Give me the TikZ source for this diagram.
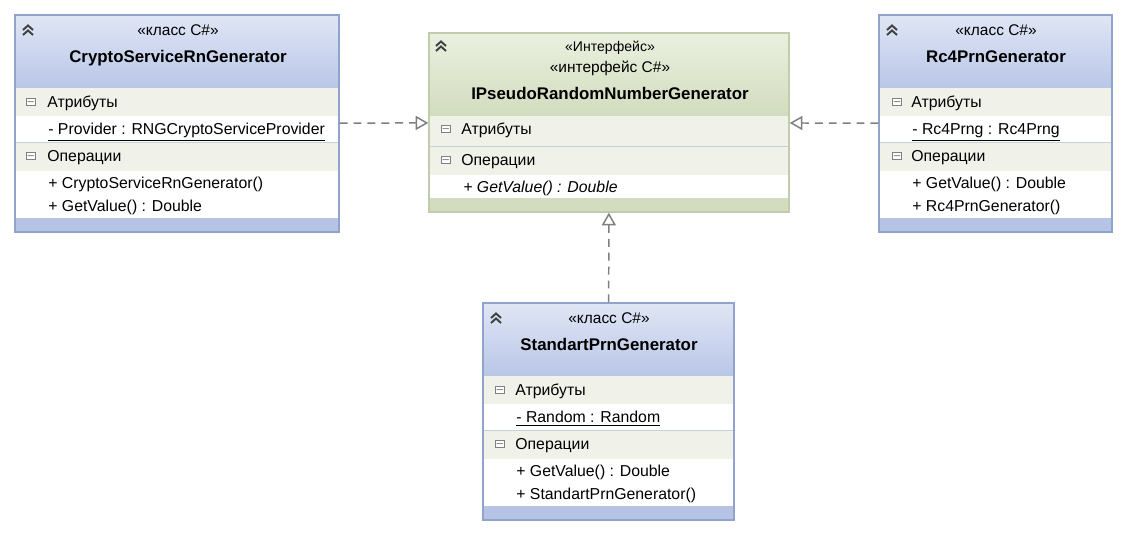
\documentclass[tikz,border=0pt]{standalone}
\usepackage{fontspec}
\setmainfont{Liberation Sans}
\usetikzlibrary{positioning,fit,arrows.meta}
\definecolor{hdtop}{HTML}{E0E6F5}
\definecolor{hdbot}{HTML}{B9C6E7}
\definecolor{clsborder}{HTML}{8FA3CC}
\definecolor{clsbot}{HTML}{B7C3E4}
\definecolor{iftop}{HTML}{EAF0DF}
\definecolor{ifbot}{HTML}{D2DCBE}
\definecolor{ifborder}{HTML}{C2CCAC}
\definecolor{bandgray}{HTML}{F0F2EA}
\definecolor{sepgray}{HTML}{C9CFDA}
\definecolor{linegray}{HTML}{7F7F7F}

\begin{document}
\begin{tikzpicture}[x=0.02cm,y=-0.02cm,
	txt/.style={anchor=west,text height=7pt,text depth=2pt,font=\fontsize{9}{10}\selectfont},
	stereo/.style={text height=7pt,text depth=2pt,font=\fontsize{8.8}{10}\selectfont},
	title/.style={text height=7.5pt,text depth=2pt,font=\bfseries\fontsize{9.6}{11}\selectfont},
	minusicon/.style={draw=gray,fill=white,line width=0.4pt,minimum size=4pt,font=\fontsize{5}{5}\selectfont},
	chev/.style={draw=black!75,line width=1.1pt},
	clsbox/.style={draw=clsborder,line width=0.8pt,inner sep=0pt},
	ifbox/.style={draw=ifborder,line width=0.8pt,inner sep=0pt},
	realize/.style={draw=linegray,line width=0.85pt,dash pattern=on 4.5pt off 3.4pt,
		-{Triangle[open,length=7.2pt,width=8pt,line width=0.85pt]}}]
		\tikzstyle{every node}+=[inner sep=0pt]
		\useasboundingbox (0,0) rectangle (1126,533);
		% CryptoServiceRnGenerator
		\shade [top color=hdtop,bottom color=hdbot] (15,15) rectangle (339,88);
		\fill [bandgray] (15,88) rectangle (339,116);
		\fill [white] (15,116) rectangle (339,142);
		\fill [bandgray] (15,142) rectangle (339,171);
		\fill [white] (15,171) rectangle (339,218);
		\fill [clsbot] (15,218) rectangle (339,232);
		\draw [sepgray] (15,142) -- (339,142);
		\draw [chev] (23,30) -- (28,25.5) -- (33,30) (23,35) -- (28,30.5) -- (33,35);
		\node [stereo] (cs1) at (178,31) {«класс C\#»};
		\node [title] (cn1) at (178,58) {CryptoServiceRnGenerator};
		\node [minusicon] (ci1) at (31,102) {$-$};
		\node [txt] (ca1) at (47,103) {Атрибуты};
		\node [txt] (cv1) at (48,130) {\underline{- Provider : RNGCryptoServiceProvider}};
		\node [minusicon] (ci2) at (31,156) {$-$};
		\node [txt] (co1) at (47,157) {Операции};
		\node [txt] (cm1) at (48,184) {+ CryptoServiceRnGenerator()};
		\node [txt] (cm2) at (48,207) {+ GetValue() : Double};
		\node [clsbox,fit={(15,15) (339,232)}] (crypto) {};
		% IPseudoRandomNumberGenerator
		\shade [top color=iftop,bottom color=ifbot] (429,33) rectangle (789,116);
		\fill [bandgray] (429,116) rectangle (789,146);
		\fill [bandgray] (429,146) rectangle (789,175);
		\fill [white] (429,175) rectangle (789,198);
		\fill [ifbot] (429,198) rectangle (789,212);
		\draw [sepgray] (429,146) -- (789,146);
		\draw [chev] (436,46) -- (441,41.5) -- (446,46) (436,51) -- (441,46.5) -- (446,51);
		\node [text height=6pt,text depth=2pt,font=\fontsize{8}{9}\selectfont] (is1) at (610,48) {«Интерфейс»};
		\node [stereo] (is2) at (610,68) {«интерфейс C\#»};
		\node [title] (in1) at (610,95) {IPseudoRandomNumberGenerator};
		\node [minusicon] (ii1) at (446,129) {$-$};
		\node [txt] (ia1) at (461,130) {Атрибуты};
		\node [minusicon] (ii2) at (446,160) {$-$};
		\node [txt] (io1) at (461,161) {Операции};
		\node [txt,font=\itshape\fontsize{9}{10}\selectfont] (im1) at (463,188) {+ GetValue() : Double};
		\node [ifbox,fit={(429,33) (789,212)}] (iface) {};
		% Rc4PrnGenerator
		\shade [top color=hdtop,bottom color=hdbot] (879,15) rectangle (1112,88);
		\fill [bandgray] (879,88) rectangle (1112,116);
		\fill [white] (879,116) rectangle (1112,142);
		\fill [bandgray] (879,142) rectangle (1112,171);
		\fill [white] (879,171) rectangle (1112,218);
		\fill [clsbot] (879,218) rectangle (1112,232);
		\draw [sepgray] (879,142) -- (1112,142);
		\draw [chev] (887,30) -- (892,25.5) -- (897,30) (887,35) -- (892,30.5) -- (897,35);
		\node [stereo] (rs1) at (996,31) {«класс C\#»};
		\node [title] (rn1) at (996,58) {Rc4PrnGenerator};
		\node [minusicon] (ri1) at (897,102) {$-$};
		\node [txt] (ra1) at (911,103) {Атрибуты};
		\node [txt] (rv1) at (912,130) {\underline{- Rc4Prng : Rc4Prng}};
		\node [minusicon] (ri2) at (897,156) {$-$};
		\node [txt] (ro1) at (911,157) {Операции};
		\node [txt] (rm1) at (912,184) {+ GetValue() : Double};
		\node [txt] (rm2) at (912,207) {+ Rc4PrnGenerator()};
		\node [clsbox,fit={(879,15) (1112,232)}] (rc4) {};
		% StandartPrnGenerator
		\shade [top color=hdtop,bottom color=hdbot] (483,303) rectangle (734,376);
		\fill [bandgray] (483,376) rectangle (734,404);
		\fill [white] (483,404) rectangle (734,430);
		\fill [bandgray] (483,430) rectangle (734,459);
		\fill [white] (483,459) rectangle (734,506);
		\fill [clsbot] (483,506) rectangle (734,520);
		\draw [sepgray] (483,430) -- (734,430);
		\draw [chev] (491,318) -- (496,313.5) -- (501,318) (491,323) -- (496,318.5) -- (501,323);
		\node [stereo] (ss1) at (609,319) {«класс C\#»};
		\node [title] (sn1) at (609,346) {StandartPrnGenerator};
		\node [minusicon] (si1) at (500,390) {$-$};
		\node [txt] (sa1) at (515,391) {Атрибуты};
		\node [txt] (sv1) at (516,418) {\underline{- Random : Random}};
		\node [minusicon] (si2) at (500,444) {$-$};
		\node [txt] (so1) at (515,445) {Операции};
		\node [txt] (sm1) at (516,472) {+ GetValue() : Double};
		\node [txt] (sm2) at (516,495) {+ StandartPrnGenerator()};
		\node [clsbox,fit={(483,303) (734,520)}] (std) {};
		% realizations
		\draw [realize] (crypto) -- (iface);
		\draw [realize] (rc4) -- (iface);
		\draw [realize] (std) -- (iface);
\end{tikzpicture}
\end{document}
